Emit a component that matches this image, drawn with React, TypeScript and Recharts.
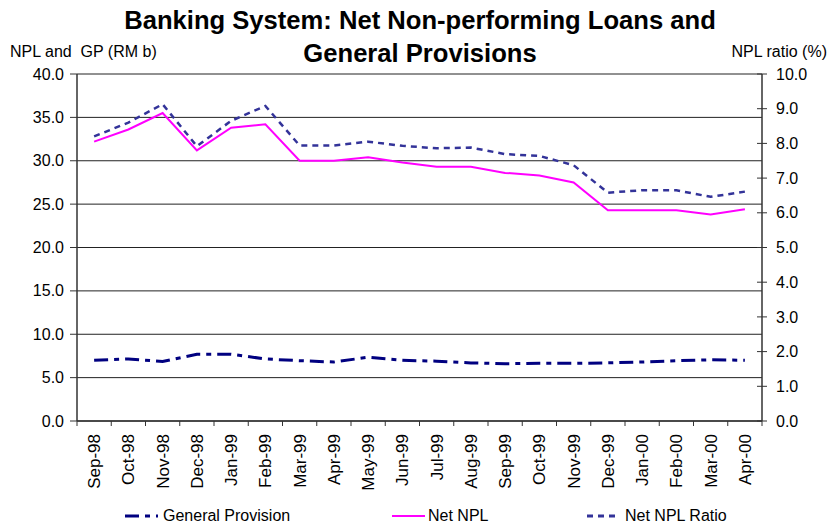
import { LineChart, Line, XAxis, YAxis, CartesianGrid, Legend } from "recharts";

const months = [
  "Sep-98", "Oct-98", "Nov-98", "Dec-98", "Jan-99", "Feb-99", "Mar-99",
  "Apr-99", "May-99", "Jun-99", "Jul-99", "Aug-99", "Sep-99", "Oct-99",
  "Nov-99", "Dec-99", "Jan-00", "Feb-00", "Mar-00", "Apr-00",
];
const generalProvision = [
  7.0, 7.15, 6.85, 7.7, 7.7, 7.15, 6.95, 6.8, 7.35, 7.0, 6.9, 6.7, 6.6,
  6.65, 6.65, 6.7, 6.8, 6.95, 7.05, 7.0,
];
const netNpl = [
  32.2, 33.6, 35.5, 31.2, 33.8, 34.2, 30.0, 30.0, 30.4, 29.8, 29.3, 29.3,
  28.6, 28.3, 27.5, 24.3, 24.3, 24.3, 23.8, 24.4,
];
const netNplRatio = [
  8.2, 8.6, 9.13, 7.92, 8.65, 9.08, 7.94, 7.94, 8.05, 7.93, 7.86, 7.88,
  7.69, 7.64, 7.37, 6.58, 6.65, 6.65, 6.46, 6.61,
];
const leftTicks = [0, 5, 10, 15, 20, 25, 30, 35, 40];
const rightTicks = [0, 1, 2, 3, 4, 5, 6, 7, 8, 9, 10];

// x runs 0..20, points sit in the middle of each month slot
const data = months.map((m, i) => ({
  x: i + 0.5,
  month: m,
  gp: generalProvision[i],
  npl: netNpl[i],
  ratio: netNplRatio[i],
}));
const xTicks = Array.from({ length: months.length * 2 + 1 }, (_, i) => i / 2);

const FONT = "'Liberation Sans', Arial, sans-serif";
const AXIS = "#333";

function XTick({ x, y, payload }: any) {
  const v = payload.value as number;
  if (Number.isInteger(v)) {
    return <line x1={x} x2={x} y1={y} y2={y + 5} stroke={AXIS} />;
  }
  const label = months[Math.floor(v)];
  const ty = y + 13;
  return (
    <text
      x={x}
      y={ty}
      transform={`rotate(-90, ${x}, ${ty})`}
      textAnchor="end"
      dy="0.35em"
      fontSize={17}
      fontFamily={FONT}
      fill="#000"
    >
      {label}
    </text>
  );
}

function LeftTick({ x, y, payload }: any) {
  return (
    <g>
      <line x1={x - 7} x2={x} y1={y} y2={y} stroke={AXIS} />
      <text x={x - 13} y={y} dy="0.35em" textAnchor="end" fontSize={16} fontFamily={FONT} fill="#000">
        {(payload.value as number).toFixed(1)}
      </text>
    </g>
  );
}

function RightTick({ x, y, payload }: any) {
  return (
    <g>
      <line x1={x - 5} x2={x + 5} y1={y} y2={y} stroke={AXIS} />
      <text x={x + 14} y={y} dy="0.35em" textAnchor="start" fontSize={16} fontFamily={FONT} fill="#000">
        {(payload.value as number).toFixed(1)}
      </text>
    </g>
  );
}

const legendItems = [
  { name: "General Provision", color: "#000080", dash: "14 6 5 6", width: 3, lineX: 125, textX: 163 },
  { name: "Net NPL", color: "#FF00FF", dash: undefined, width: 2, lineX: 392, textX: 428 },
  { name: "Net NPL Ratio", color: "#333399", dash: "6 5", width: 3, lineX: 587, textX: 625 },
];

function ChartLegend() {
  return (
    <div style={{ position: "relative", width: 828, height: 22, fontFamily: FONT, fontSize: 16 }}>
      {legendItems.map((it) => (
        <div key={it.name}>
          <svg style={{ position: "absolute", left: it.lineX, top: 8 }} width={33} height={6}>
            <line x1={0} x2={33} y1={3} y2={3} stroke={it.color} strokeWidth={it.width} strokeDasharray={it.dash} />
          </svg>
          <span style={{ position: "absolute", left: it.textX, top: 2, lineHeight: "18px", whiteSpace: "nowrap" }}>
            {it.name}
          </span>
        </div>
      ))}
    </div>
  );
}

export default function App() {
  return (
    <div style={{ position: "absolute", left: 0, top: 0, width: 828, height: 529, background: "#fff" }}>
      <LineChart width={828} height={529} data={data} margin={{ top: 74, right: 0, bottom: 0, left: 0 }}>
        <CartesianGrid yAxisId="left" horizontal vertical={false} stroke="#222" />
        <XAxis
          dataKey="x"
          type="number"
          domain={[0, months.length]}
          ticks={xTicks}
          interval={0}
          height={108}
          tickSize={0}
          tickMargin={0}
          tickLine={false}
          tick={<XTick />}
          stroke={AXIS}
          strokeWidth={1.5}
        />
        <YAxis
          yAxisId="left"
          domain={[0, 40]}
          ticks={leftTicks}
          width={77}
          tickSize={0}
          tickMargin={0}
          tickLine={false}
          tick={<LeftTick />}
          stroke={AXIS}
          strokeWidth={1.5}
        />
        <YAxis
          yAxisId="right"
          orientation="right"
          domain={[0, 10]}
          ticks={rightTicks}
          width={66}
          tickSize={0}
          tickMargin={0}
          tickLine={false}
          tick={<RightTick />}
          stroke={AXIS}
          strokeWidth={1.5}
        />
        <Line
          yAxisId="left"
          dataKey="gp"
          name="General Provision"
          stroke="#000080"
          strokeWidth={3}
          strokeDasharray="14 6 5 6"
          dot={false}
          activeDot={false}
          isAnimationActive={false}
        />
        <Line
          yAxisId="left"
          dataKey="npl"
          name="Net NPL"
          stroke="#FF00FF"
          strokeWidth={2}
          dot={false}
          activeDot={false}
          isAnimationActive={false}
        />
        <Line
          yAxisId="right"
          dataKey="ratio"
          name="Net NPL Ratio"
          stroke="#333399"
          strokeWidth={2.5}
          strokeDasharray="6 5"
          dot={false}
          activeDot={false}
          isAnimationActive={false}
        />
        <Legend
          layout="horizontal"
          verticalAlign="middle"
          align="center"
          wrapperStyle={{ top: 505, left: 0, width: 828, height: 22 }}
          content={<ChartLegend />}
        />
      </LineChart>
      <div
        style={{
          position: "absolute",
          left: 100,
          top: 4,
          width: 640,
          textAlign: "center",
          fontFamily: FONT,
          fontWeight: "bold",
          fontSize: 25.6,
          lineHeight: "33px",
          color: "#000",
        }}
      >
        Banking System: Net Non-performing Loans and
        <br />
        General Provisions
      </div>
      <div
        style={{
          position: "absolute",
          left: 10,
          top: 44,
          fontFamily: FONT,
          fontSize: 16,
          lineHeight: "16px",
          whiteSpace: "pre",
          color: "#000",
        }}
      >
        {"NPL and  GP (RM b)"}
      </div>
      <div
        style={{
          position: "absolute",
          right: 1,
          top: 44,
          fontFamily: FONT,
          fontSize: 16,
          lineHeight: "16px",
          whiteSpace: "pre",
          color: "#000",
        }}
      >
        NPL ratio (%)
      </div>
    </div>
  );
}
